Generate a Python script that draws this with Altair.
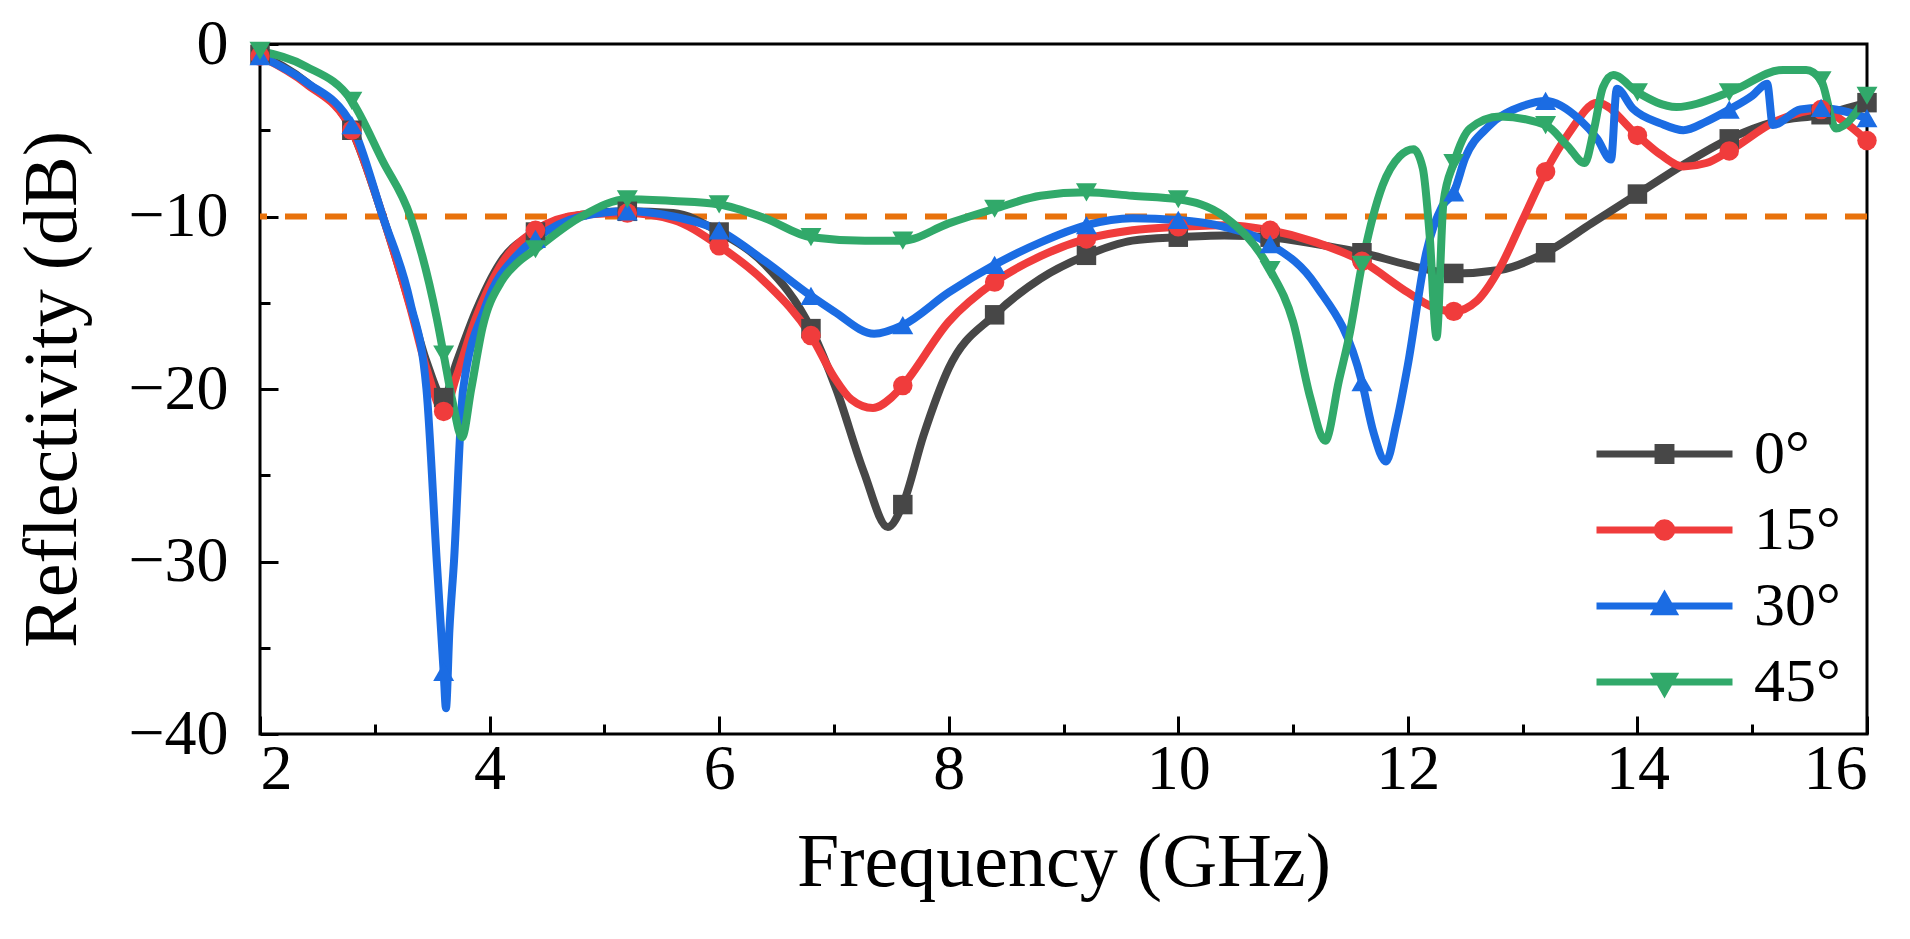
import math

import altair as alt
import pandas as pd

SERIES = ["0°", "15°", "30°", "45°"]
COLORS = ["#474747", "#F03C3C", "#1B6CE3", "#31A96A"]
SHAPES = ["square", "circle", "triangle-up", "triangle-down"]

MARKER_FREQS = [2.0, 2.8, 3.6, 4.4, 5.2, 6.0, 6.8, 7.6, 8.4, 9.2, 10.0,
                10.8, 11.6, 12.4, 13.2, 14.0, 14.8, 15.6, 16.0]
REF_LEVEL = [-10]
X_MAJOR = [2, 4, 6, 8, 10, 12, 14, 16]
X_MINOR = [3, 5, 7, 9, 11, 13, 15]
Y_MAJOR = [0, -10, -20, -30, -40]
Y_MINOR = [-5, -15, -25, -35]

FREQ_0 = [2.0, 2.4, 2.8, 3.07, 3.31, 3.45, 3.6, 3.71, 3.88, 4.09, 4.4, 4.8,
          5.2, 5.6, 6.0, 6.4, 6.8, 7.02, 7.26, 7.47, 7.6, 7.78, 8.0, 8.4,
          8.8, 9.2, 9.6, 10.0, 10.4, 10.8, 11.2, 11.6, 12.0, 12.4, 12.8,
          13.2, 13.6, 14.0, 14.4, 14.8, 15.2, 15.6, 16.0]
REFL_0 = [-0.6, -2.2, -5.0, -10.0, -15.2, -18.4, -20.5, -18.5, -15.5, -12.7,
          -10.9, -9.9, -9.7, -9.8, -10.9, -12.8, -16.5, -20.0, -24.8, -28.0,
          -26.7, -22.7, -18.8, -15.7, -13.6, -12.25, -11.4, -11.2, -11.1,
          -11.2, -11.6, -12.1, -12.8, -13.3, -13.1, -12.1, -10.4, -8.7,
          -7.0, -5.5, -4.5, -4.1, -3.4]

FREQ_15 = [2.0, 2.4, 2.8, 3.07, 3.31, 3.45, 3.6, 3.71, 3.88, 4.09, 4.4, 4.8,
           5.2, 5.6, 6.0, 6.4, 6.8, 7.0, 7.15, 7.34, 7.5, 7.6, 8.0, 8.4,
           8.8, 9.2, 9.6, 10.0, 10.4, 10.8, 11.2, 11.6, 12.0, 12.2, 12.4,
           12.6, 12.8, 13.0, 13.2, 13.4, 13.65, 14.0, 14.2, 14.4, 14.6,
           14.8, 15.2, 15.6, 15.8, 16.0]
REFL_15 = [-0.7, -2.3, -5.0, -10.0, -15.3, -18.8, -21.3, -19.3, -15.9, -12.9,
           -10.8, -9.9, -9.8, -10.2, -11.7, -13.8, -16.9, -19.3, -20.6, -21.1,
           -20.5, -19.8, -16.1, -13.8, -12.3, -11.3, -10.8, -10.6, -10.5,
           -10.8, -11.5, -12.6, -14.4, -15.2, -15.5, -14.9, -13.0, -10.2,
           -7.4, -5.2, -3.4, -5.3, -6.4, -7.1, -6.9, -6.2, -4.5, -3.8, -4.5,
           -5.6]

FREQ_30 = [2.0, 2.4, 2.8, 3.07, 3.31, 3.45, 3.54, 3.6, 3.62, 3.65, 3.69, 3.77,
           3.96, 4.26, 4.4, 4.8, 5.2, 5.6, 6.0, 6.4, 6.8, 7.0, 7.35, 7.6,
           8.0, 8.4, 8.8, 9.2, 9.6, 10.0, 10.4, 10.8, 11.2, 11.6, 11.7,
           11.81, 11.9, 12.0, 12.16, 12.3, 12.4, 12.5, 12.7, 13.0, 13.2,
           13.5, 13.65, 13.77, 13.82, 13.96, 14.2, 14.4, 14.6, 14.8, 15.0,
           15.13, 15.18, 15.42, 15.6, 15.8, 16.0]
REFL_30 = [-0.7, -2.2, -4.7, -10.0, -15.0, -20.0, -30.0, -36.4, -38.5, -34.0,
           -30.0, -20.0, -15.3, -12.1, -11.3, -10.0, -9.7, -10.0, -10.8,
           -12.6, -14.6, -15.5, -16.8, -16.3, -14.4, -12.8, -11.5, -10.5,
           -10.1, -10.2, -10.6, -11.6, -14.0, -19.6, -22.5, -24.2, -22.0,
           -18.6, -12.1, -9.4, -8.6, -6.6, -4.8, -3.6, -3.3, -4.4, -5.5,
           -6.7, -2.6, -3.75, -4.6, -5.0, -4.5, -3.8, -3.0, -2.3, -4.7,
           -3.8, -3.7, -3.9, -4.3]

FREQ_45 = [2.0, 2.4, 2.8, 3.07, 3.31, 3.54, 3.6, 3.68, 3.76, 3.84, 3.94, 4.1,
           4.24, 4.4, 4.8, 5.2, 5.6, 6.0, 6.4, 6.8, 7.27, 7.6, 8.0, 8.4, 8.8,
           9.2, 9.6, 10.0, 10.4, 10.8, 11.0, 11.15, 11.28, 11.4, 11.49,
           11.6, 11.78, 11.93, 12.05, 12.13, 12.19, 12.25, 12.31, 12.4,
           12.54, 12.8, 13.2, 13.39, 13.54, 13.62, 13.7, 13.79, 14.0, 14.34,
           14.8, 15.27, 15.47, 15.6, 15.73, 16.0]
REFL_45 = [-0.4, -1.3, -3.3, -6.8, -10.0, -15.9, -18.0, -20.8, -22.8, -20.0,
           -16.4, -13.8, -12.7, -11.9, -10.0, -9.0, -9.1, -9.3, -10.1, -11.2,
           -11.4, -11.4, -10.4, -9.55, -8.8, -8.6, -8.8, -9.0, -10.0, -13.1,
           -16.1, -20.5, -23.0, -19.5, -16.9, -12.8, -8.2, -6.5, -6.1, -7.2,
           -11.1, -17.0, -9.2, -6.9, -4.9, -4.2, -4.7, -5.9, -6.9, -5.0,
           -2.5, -1.8, -2.8, -3.65, -2.8, -1.5, -1.5, -2.1, -4.9, -3.0]

FREQS = [FREQ_0, FREQ_15, FREQ_30, FREQ_45]
REFLS = [REFL_0, REFL_15, REFL_30, REFL_45]


def polygon(r, n):
    pts = []
    for k in range(n):
        a = 2 * math.pi * k / n
        pts.append(f"{r * math.cos(a):.3f},{r * math.sin(a):.3f}")
    return "M" + "L".join(pts) + "Z"


# legend symbols: a line with the marker sitting in the middle
LINE = "M-1,0H1"
LEGEND_PATHS = [
    LINE + "M-0.095,-0.095H0.095V0.095H-0.095Z",
    LINE + polygon(0.106, 16),
    LINE + "M-0.127,0.085L0,-0.138L0.127,0.085Z",
    LINE + "M-0.127,-0.085L0,0.138L0.127,-0.085Z",
]

rows = []
for name, fs, vs in zip(SERIES, FREQS, REFLS):
    for f, v in zip(fs, vs):
        marker = any(abs(f - m) < 1e-6 for m in MARKER_FREQS)
        rows.append({"freq": f, "refl": v, "series": name, "marker": marker})
df = pd.DataFrame(rows)
ref = pd.DataFrame({"level": REF_LEVEL})

FONT = "Liberation Serif"
x_scale = alt.Scale(domain=[2, 16], nice=False, zero=False)
y_scale = alt.Scale(domain=[-40, 0], nice=False, zero=False)
color_scale = alt.Scale(domain=SERIES, range=COLORS)

x_major = alt.Axis(values=X_MAJOR, orient="bottom", offset=-18, tickSize=18,
                   tickWidth=3, tickColor="black", domain=False, grid=False,
                   labelFont=FONT, labelFontSize=64, labelColor="black",
                   labelPadding=3, title="Frequency (GHz)", titleFont=FONT,
                   titleFontSize=76, titleFontWeight="normal",
                   titleColor="black", titlePadding=24)
y_major = alt.Axis(values=Y_MAJOR, orient="left", offset=-18, tickSize=18,
                   tickWidth=3, tickColor="black", domain=False, grid=False,
                   labelFont=FONT, labelFontSize=64, labelColor="black",
                   labelPadding=32, title="Reflectivity (dB)", titleFont=FONT,
                   titleFontSize=76, titleFontWeight="normal",
                   titleColor="black", titlePadding=36)
x_minor = alt.Axis(values=X_MINOR, orient="bottom", offset=-10, tickSize=10,
                   tickWidth=3, tickColor="black", domain=False, grid=False,
                   labels=False, title=None)
y_minor = alt.Axis(values=Y_MINOR, orient="left", offset=-10, tickSize=10,
                   tickWidth=3, tickColor="black", domain=False, grid=False,
                   labels=False, title=None)

ref_line = (
    alt.Chart(ref)
    .mark_rule(color="#E8720C", strokeWidth=6, strokeDash=[22, 18])
    .encode(y=alt.Y("level:Q", scale=y_scale, axis=None))
)

lines = (
    alt.Chart(df)
    .mark_line(strokeWidth=8, interpolate="monotone", clip=True)
    .encode(
        x=alt.X("freq:Q", scale=x_scale, axis=x_major),
        y=alt.Y("refl:Q", scale=y_scale, axis=y_major),
        color=alt.Color("series:N", scale=color_scale, legend=None),
        detail="series:N",
    )
)

point_layers = []
for i, (name, shape) in enumerate(zip(SERIES, SHAPES)):
    first = i == 0
    layer = (
        alt.Chart(df)
        .transform_filter(f"datum.marker && datum.series == '{name}'")
        .mark_point(shape=shape, filled=True, opacity=1,
                    size=440 if "triangle" in shape else 380)
        .encode(
            x=alt.X("freq:Q", scale=x_scale, axis=x_minor if first else None),
            y=alt.Y("refl:Q", scale=y_scale, axis=y_minor if first else None),
            color=alt.Color("series:N", scale=color_scale, legend=None),
        )
    )
    point_layers.append(layer)

legend = alt.Legend(
    orient="none", legendX=1333, legendY=378, title=None, padding=0,
    labelFont=FONT, labelFontSize=62, labelColor="black", labelOffset=18,
    symbolSize=18496, symbolStrokeWidth=7, clipHeight=64, rowPadding=12,
)
legend_layer = (
    alt.Chart(df)
    .transform_filter("false")
    .mark_point(filled=True, opacity=1)
    .encode(
        x=alt.X("freq:Q", scale=x_scale, axis=None),
        y=alt.Y("refl:Q", scale=y_scale, axis=None),
        fill=alt.Fill("series:N", scale=alt.Scale(domain=SERIES, range=COLORS),
                      legend=legend),
        stroke=alt.Stroke("series:N", scale=alt.Scale(domain=SERIES, range=COLORS),
                          legend=legend),
        shape=alt.Shape("series:N",
                        scale=alt.Scale(domain=SERIES, range=LEGEND_PATHS),
                        legend=legend),
    )
)

chart = (
    alt.layer(ref_line, lines, *point_layers, legend_layer)
    .resolve_axis(x="independent", y="independent")
    .resolve_scale(fill="independent", stroke="independent", shape="independent")
    .properties(
        width=1607,
        height=690,
        padding={"left": 6, "top": 4, "right": 0, "bottom": 5},
        background="white",
    )
    .configure_view(stroke="black", strokeWidth=3)
)

chart.save("out.html", embed_options={"renderer": "svg", "actions": False})
